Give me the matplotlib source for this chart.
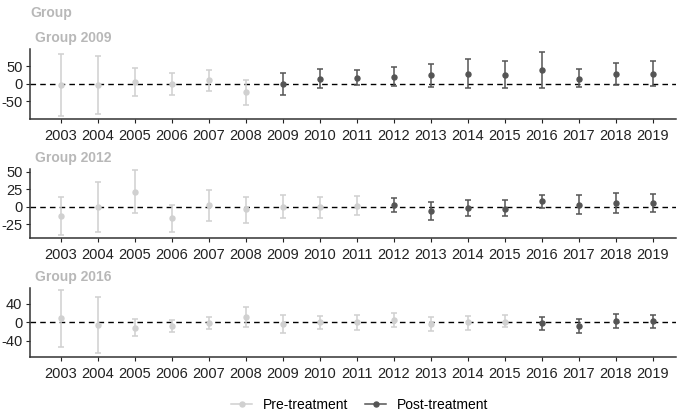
import numpy as np
import matplotlib
matplotlib.use("Agg")
import matplotlib.pyplot as plt
from matplotlib.lines import Line2D

plt.rcParams['font.family'] = ['Liberation Sans', 'DejaVu Sans']
plt.rcParams['axes.unicode_minus'] = False

years = list(range(2003, 2020))
groups = ["Group 2009", "Group 2012", "Group 2016"]
start_years = [2009, 2012, 2016]

est_2009 = [-2, -3, 5, 0, 10, -22, 0, 15, 17, 20, 24, 29, 26, 40, 15, 29, 29]
lo_2009 = [-92, -85, -35, -32, -20, -60, -31, -12, -4, -7, -9, -12, -13, -11, -10, -3, -5]
hi_2009 = [85, 78, 45, 30, 40, 12, 30, 42, 38, 47, 56, 71, 66, 90, 42, 60, 64]

est_2012 = [-13.5, 0, 21, -17, 2, -4, 0, -1, 1, 3, -6, -2, -3, 7.5, 3, 5, 5]
lo_2012 = [-41, -36.5, -9, -37, -20, -23, -17, -16, -12.5, -8, -19, -14, -14, -2, -10, -9, -8]
hi_2012 = [14, 36, 52, 2, 24, 13.5, 17, 13.5, 15, 12, 6, 10, 9, 17, 16, 20, 18]

est_2016 = [8.6, -6.4, -11.4, -8, -1, 12, -4, 0, 0, 4, -4, 0, 1.4, -1, -7, 3, 2]
lo_2016 = [-53.6, -67, -30.7, -22, -14, -10, -24, -14, -16, -11, -19, -16, -11, -16, -23, -13, -12]
hi_2016 = [70, 53.6, 6.4, 5, 11, 34, 15, 14, 15, 19, 12, 14, 15, 12, 7, 17, 15]

series = [(est_2009, lo_2009, hi_2009), (est_2012, lo_2012, hi_2012), (est_2016, lo_2016, hi_2016)]
yticks = [[-50, 0, 50], [-25, 0, 25, 50], [-40, 0, 40]]
ylims = [(-100, 99), (-45, 54), (-75, 74)]

pre_col = "#d0d0d0"
post_col = "#555555"
title_col = "#b8b8b8"

W, H = 677, 417
fig = plt.figure(figsize=(W / 100, H / 100), dpi=100)

# panel boxes in pixels: top, bottom
boxes = [(49, 119), (169, 238), (288, 357)]
left, right = 30, 676

fig.text(30 / W, 1 - 13 / H, "Group", fontsize=10, fontweight="bold",
         color=title_col, va="center", ha="left")

for i, (name, sy, (est, lo, hi)) in enumerate(zip(groups, start_years, series)):
    top, bot = boxes[i]
    ax = fig.add_axes([left / W, 1 - bot / H, (right - left) / W, (bot - top) / H])
    est = np.array(est, dtype=float)
    lo = np.array(lo, dtype=float)
    hi = np.array(hi, dtype=float)
    yr = np.array(years)
    ax.axhline(0, color="black", ls=(0, (4, 3)), lw=1, zorder=1)
    for mask, col in [(yr < sy, pre_col), (yr >= sy, post_col)]:
        ax.errorbar(yr[mask], est[mask], yerr=[est[mask] - lo[mask], hi[mask] - est[mask]],
                    fmt="o", color=col, ms=3.6, elinewidth=1.1, capsize=2.2, capthick=1.1, zorder=3)
    ax.set_xlim(2002.17, 2019.62)
    ax.set_ylim(*ylims[i])
    ax.set_xticks(years)
    ax.set_xticklabels([str(y) for y in years])
    ax.set_yticks(yticks[i])
    ax.set_yticklabels([str(t) for t in yticks[i]])
    for s in ["top", "right"]:
        ax.spines[s].set_visible(False)
    for s in ["left", "bottom"]:
        ax.spines[s].set_color("#333333")
        ax.spines[s].set_linewidth(1.1)
    ax.tick_params(axis="both", labelsize=10.5, colors="#222222", length=3, width=0.8, pad=2.5)
    ax.tick_params(axis="x", pad=4)
    fig.text(35 / W, 1 - (top - 11) / H, name, fontsize=10, fontweight="bold",
             color=title_col, va="center", ha="left")

handles = [
    Line2D([0], [0], color=pre_col, marker="o", ms=3.6, lw=1.1),
    Line2D([0], [0], color=post_col, marker="o", ms=3.6, lw=1.1),
]
fig.legend(handles, ["Pre-treatment", "Post-treatment"], loc="center",
           bbox_to_anchor=(360 / W, 1 - 405 / H), ncol=2, frameon=False,
           fontsize=10, handlelength=1.5, columnspacing=1.2, handletextpad=0.8)

fig.savefig("out.png", dpi=100)
